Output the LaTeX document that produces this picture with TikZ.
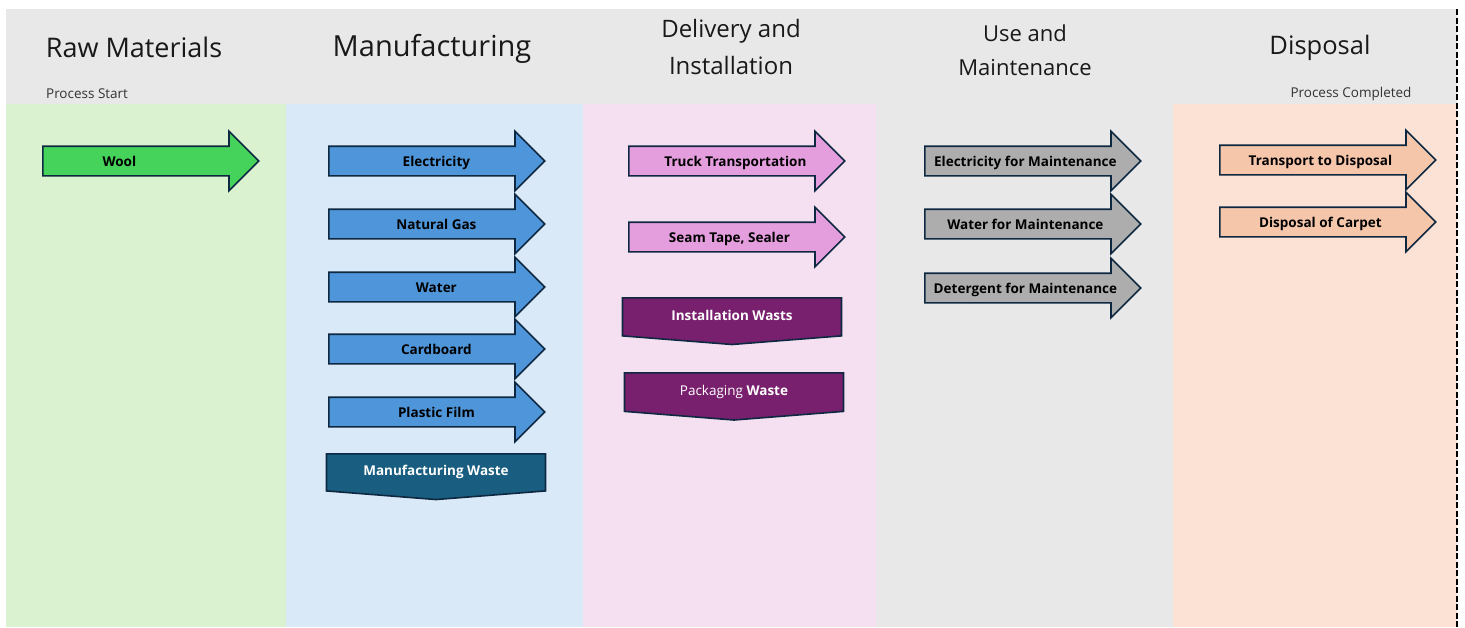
\documentclass[tikz,border=0pt]{standalone}
\usepackage{fontspec}
\setmainfont{Open Sans}
\usetikzlibrary{shapes.arrows, shapes.symbols, positioning}
\definecolor{hdrgrey}{HTML}{E8E8E8}
\definecolor{lanegreen}{HTML}{DAF2D0}
\definecolor{laneblue}{HTML}{DAE9F8}
\definecolor{lanepink}{HTML}{F5E0F2}
\definecolor{lanegrey}{HTML}{E8E8E8}
\definecolor{lanepeach}{HTML}{FBE2D5}
\definecolor{cnavy}{HTML}{0E2841}
\definecolor{cwool}{HTML}{45D35B}
\definecolor{cblue}{HTML}{4E95D9}
\definecolor{cpink}{HTML}{E59EDD}
\definecolor{cgrey}{HTML}{ADADAD}
\definecolor{cpeach}{HTML}{F6C6AB}
\definecolor{cteal}{HTML}{195E80}
\definecolor{cplum}{HTML}{78206E}
\tikzset{
  every picture/.style={line width=1.6pt},
  flow/.style={single arrow, draw=cnavy, fill=#1, anchor=tail, text=black,
    minimum height=216pt, minimum width=58pt, single arrow head extend=15pt,
    single arrow tip angle=90, inner xsep=2pt, inner ysep=7.5pt,
    text height=12.3pt, text depth=0.7pt, font=\fontsize{13.5}{15}\selectfont\bfseries},
  flow/.default=cblue,
  waste/.style={signal, signal to=south, signal pointer angle=171, draw=cnavy, fill=#1,
    anchor=north, minimum width=219pt, minimum height=43pt, inner sep=2pt, text=white,
    font=\fontsize{13.5}{15}\selectfont\bfseries},
  heading/.style={font=\fontsize{#1}{36}\selectfont, align=center, text=black!90},
  note/.style={font=\fontsize{13.5}{16}\selectfont, text=black!80},
}

\begin{document}
\begin{tikzpicture}[x=1pt, y=-1pt]
  \useasboundingbox (0,0) rectangle (1465,627);
  % header band and the five lanes
  \fill[hdrgrey] (6,9) rectangle (1457,104);
  \fill[lanegreen] (6,104) rectangle (286,627);
  \fill[laneblue] (286,104) rectangle (583,627);
  \fill[lanepink] (583,104) rectangle (876,627);
  \fill[lanegrey] (876,104) rectangle (1173,627);
  \fill[lanepeach] (1173,104) rectangle (1457,627);
  \draw[black, line width=1.6pt, dash pattern=on 6pt off 2.5pt] (1457,9) -- (1457,627);

  % lane titles
  \node[heading=27] (raw) at (134,47) {Raw Materials};
  \node[heading=29] (mfg) at (432,49) {Manufacturing};
  \node[heading=24, font=\fontsize{24}{37}\selectfont] (deliv) at (731,47) {Delivery and\\Installation};
  \node[heading=22, font=\fontsize{22}{34}\selectfont] (use) at (1025,50) {Use and\\Maintenance};
  \node[heading=25.5] (disp) at (1320,48) {Disposal};
  \node[note, anchor=west] (start) at (42,94) {Process Start};
  \node[note] (done) at (1351,94) {Process Completed};

  % raw materials
  \node[flow=cwool] (wool) at (42,161) {\hspace*{-48pt}Wool};

  % manufacturing
  \foreach \n/\y/\txt in {elec/161/Electricity, gas/224/Natural Gas, water/287/Water,
      card/349/Cardboard, film/412/Plastic Film}
    \node[flow] (\n) at (328,\y) {\hspace*{14pt}\txt};
  \node[waste=cteal] (mfgwaste) at (436,453) {Manufacturing Waste};

  % delivery and installation
  \node[flow=cpink] (truck) at (628,161) {\hspace*{12pt}Truck Transportation};
  \node[flow=cpink] (seam) at (628,237) {Seam Tape, Sealer};
  \node[waste=cplum] (instwaste) at (732,297) {\raisebox{3pt}{Installation Wasts}};
  \node[waste=cplum] (packwaste) at (734,372) {{\mdseries Packaging} Waste};

  % use and maintenance
  \foreach \n/\y/\txt in {uelec/161/Electricity, uwater/224/Water, udet/288/Detergent}
    \node[flow=cgrey] (\n) at (924,\y) {\txt{} for Maintenance};

  % disposal
  \node[flow=cpeach] (trans) at (1219,160) {Transport to Disposal};
  \node[flow=cpeach] (carpet) at (1219,222) {Disposal of Carpet};
\end{tikzpicture}
\end{document}
